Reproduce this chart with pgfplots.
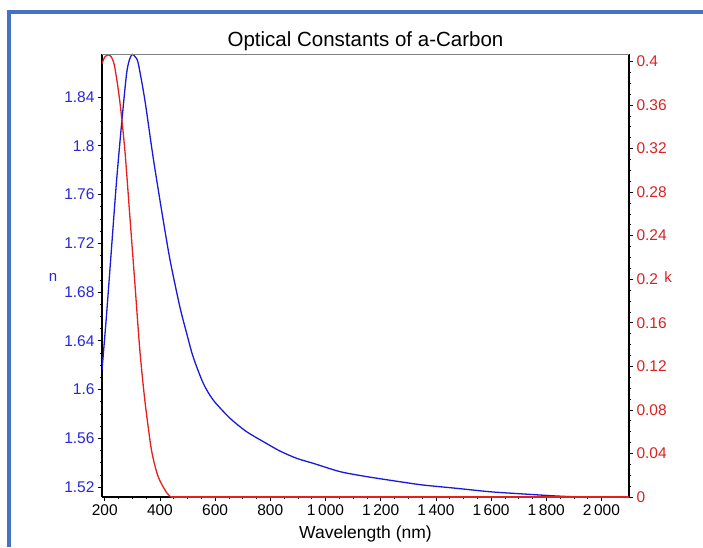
\documentclass[border=0pt]{standalone}
\usepackage{fontspec}
\setmainfont{Liberation Sans}
\usepackage{pgfplots}
\pgfplotsset{compat=1.18}
\definecolor{nblue}{RGB}{25,25,220}
\definecolor{kred}{RGB}{230,30,30}
\definecolor{nlab}{RGB}{40,40,215}
\definecolor{klab}{RGB}{215,35,35}
\definecolor{frame}{RGB}{70,114,196}
\newcommand{\tlfont}{\fontsize{15.5}{18}\selectfont}
\begin{document}
\begin{tikzpicture}[x=1pt,y=1pt]
\path[use as bounding box] (0,0) rectangle (703,547);
\fill[frame] (7,533) rectangle (703,537);
\fill[frame] (7,0) rectangle (11,537);
\pgfplotsset{
  common/.style={
    at={(102pt,50pt)}, anchor=south west, scale only axis,
    width=527pt, height=443pt,
    xmin=190, xmax=2100,
    scaled x ticks=false, scaled y ticks=false,
    tick align=outside,
    major tick length=4pt, minor tick length=2pt,
    every tick/.style={black, line width=0.6pt},
    /pgf/number format/fixed,
    /pgf/number format/precision=2,
    /pgf/number format/assume math mode=true,
    /pgf/number format/1000 sep={\,},
    xticklabel={\tlfont\pgfmathprintnumber{\tick}},
    yticklabel={\tlfont\pgfmathprintnumber{\tick}},
    axis line style={line width=1.3pt, black},
  }
}
\begin{axis}[common,
  axis x line*=bottom, axis y line*=left,
  ymin=1.5118, ymax=1.8753,
  xtick={200,400,...,2000}, minor x tick num=3,
  ytick={1.52,1.56,1.60,1.64,1.68,1.72,1.76,1.80,1.84},
  minor y tick num=3,
  yticklabel style={color=nlab},
  xticklabel style={black},
  xlabel={Wavelength (nm)},
  xlabel style={font=\fontsize{17.5}{20}\selectfont, at={(axis description cs:0.5,0)}, anchor=north, yshift=-25pt},
  ylabel={n},
  ylabel style={font=\fontsize{15}{18}\selectfont, color=nlab, rotate=-90, at={(axis description cs:0,0.5)}, anchor=center, xshift=-49pt, yshift=-1.5pt},
  title={Optical Constants of a-Carbon},
  title style={font=\fontsize{20.5}{24}\selectfont, at={(axis description cs:0.5,1)}, anchor=base, yshift=1pt},
]
\addplot[nblue, line width=1.3pt, smooth, tension=0.45] coordinates {
(190,1.616) (206,1.660) (224,1.7145) (242,1.769) (261,1.818) (279,1.859)
(290,1.871) (300,1.875) (310,1.873) (321,1.868) (345,1.838) (375,1.791)
(406,1.747) (436,1.707) (472,1.668) (497,1.646) (520,1.627) (557,1.6051)
(593,1.5914) (654,1.5764) (714,1.5654) (775,1.5572) (835,1.5495)
(896,1.5435) (956,1.5394) (1053,1.5326) (1150,1.5285) (1271,1.5243)
(1355,1.5216) (1476,1.5189) (1597,1.5161) (1717,1.5143) (1839,1.5126)
(1960,1.5115) (2000,1.5112)
};
\end{axis}
\begin{axis}[common,
  axis x line=none, axis y line*=right,
  ymin=0, ymax=0.4068,
  ytick={0,0.04,0.08,0.12,0.16,0.2,0.24,0.28,0.32,0.36,0.4},
  minor y tick num=3,
  yticklabel style={color=klab},
  ylabel={k},
  ylabel style={font=\fontsize{15}{18}\selectfont, color=klab, rotate=-90, at={(axis description cs:1,0.5)}, anchor=center, xshift=39pt, yshift=-1.5pt},
]
\addplot[kred, line width=1.3pt, smooth, tension=0.45] coordinates {
(190,0.398) (200,0.404) (212,0.406) (224,0.404) (236,0.395) (254,0.3645)
(273,0.318) (291,0.2575) (309,0.1967) (327,0.1353) (345,0.0894)
(369,0.0436) (393,0.019) (424,0.0041) (440,0)
};
\addplot[kred, line width=1.3pt] coordinates {(440,0) (2100,0)};
\end{axis}
\draw[gray, line width=0.8pt] (102,493) -- (629,493);
\end{tikzpicture}
\end{document}
